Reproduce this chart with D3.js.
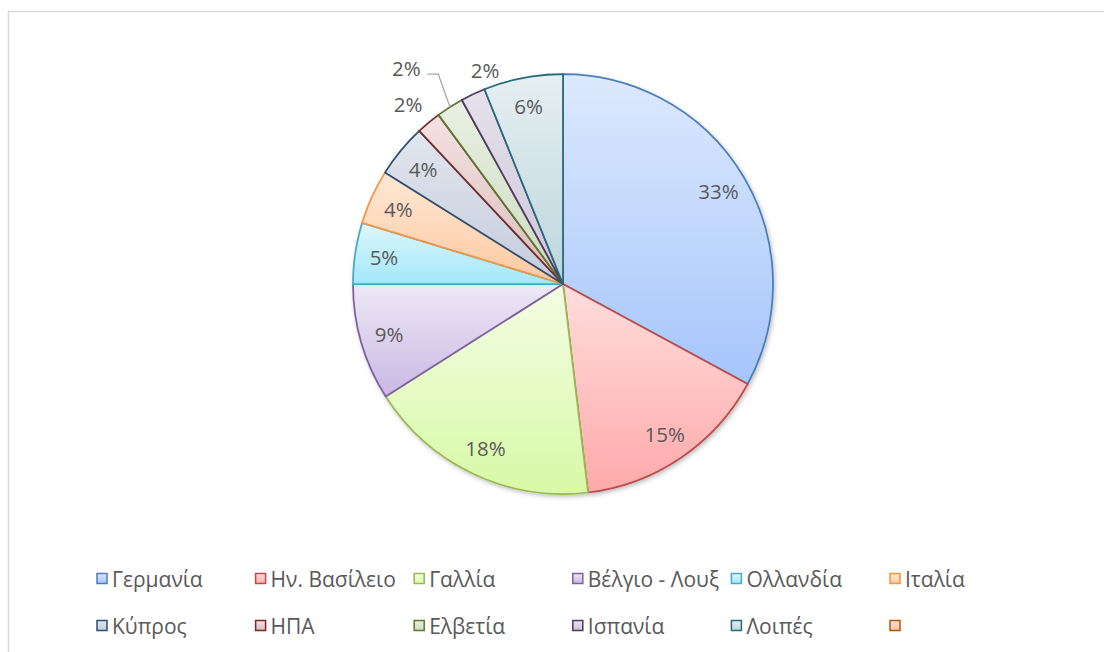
<!DOCTYPE html>
<html>
<head>
<meta charset="utf-8">
<script src="https://cdn.jsdelivr.net/npm/d3@7"></script>
<style>
  body { margin: 0; background: #fff; }
  text { font-family: "Open Sans", sans-serif; fill: #595959; }
</style>
</head>
<body>
<script>
// countries, share of total (percent)
var categories = ["Γερμανία", "Ην. Βασίλειο", "Γαλλία", "Βέλγιο - Λουξ", "Ολλανδία", "Ιταλία",
                  "Κύπρος", "ΗΠΑ", "Ελβετία", "Ισπανία", "Λοιπές", ""];
var values = [32.9, 15.2, 17.9, 9.0, 4.7, 4.2, 4.1, 1.9, 2.1, 1.9, 6.1, 0];

// colours: gradient top, gradient bottom, outline
var fillTop = ["#dde9fd", "#ffdddd", "#f4fde4", "#eee8f6", "#def6fc", "#ffe8d6",
               "#e2e6ee", "#f4e2e2", "#e9f0e3", "#e6e2ec", "#e6eff2", "#fbe0d0"];
var fillBottom = ["#a5c5fb", "#ffa9a9", "#d8f9a6", "#c9b8e4", "#a2e8f8", "#ffc9a0",
                  "#c3cbdc", "#dbbcbc", "#cddbc1", "#cdc4d8", "#bcd5dd", "#f6c2a4"];
var strokeCol = ["#4a7ebb", "#be4b48", "#98b954", "#7d60a0", "#46aac5", "#f69240",
                 "#2c4d75", "#772c2a", "#5f7530", "#4d3b62", "#276a7c", "#b65708"];

var svgWidth = 1104;
var svgHeight = 652;
var cx = 563, cy = 284, radius = 210;

var svg = d3.select("body")
  .append("svg")
  .attr("width", svgWidth)
  .attr("height", svgHeight);

// chart frame (runs off the bottom right of the page)
svg.append("rect")
  .attr("x", 8.5).attr("y", 11.5)
  .attr("width", svgWidth).attr("height", svgHeight)
  .attr("fill", "#fff")
  .attr("stroke", "#d9d9d9")
  .attr("stroke-width", 1.5);

var defs = svg.append("defs");

categories.forEach(function(c, i) {
  var g = defs.append("linearGradient")
    .attr("id", "grad" + i)
    .attr("x1", 0).attr("y1", 0).attr("x2", 0).attr("y2", 1);
  g.append("stop").attr("offset", "0%").attr("stop-color", fillTop[i]);
  g.append("stop").attr("offset", "100%").attr("stop-color", fillBottom[i]);
});

var shadow = defs.append("filter").attr("id", "shadow")
  .attr("x", "-10%").attr("y", "-10%").attr("width", "120%").attr("height", "120%");
shadow.append("feDropShadow")
  .attr("dx", 1.5).attr("dy", 2).attr("stdDeviation", 2)
  .attr("flood-color", "#000").attr("flood-opacity", 0.25);

var pie = d3.pie().sort(null).value(function(d) { return d; });
var arcs = pie(values);

var arc = d3.arc().innerRadius(0).outerRadius(radius);
var labelArc = d3.arc().innerRadius(181).outerRadius(181);

var chart = svg.append("g")
  .attr("transform", "translate(" + cx + "," + cy + ")");

var slices = chart.append("g").attr("filter", "url(#shadow)");

slices.selectAll("path")
  .data(arcs.filter(function(d) { return d.value > 0; }))
  .enter()
  .append("path")
  .attr("d", arc)
  .attr("fill", function(d) { return "url(#grad" + d.index + ")"; })
  .attr("stroke", function(d) { return strokeCol[d.index]; })
  .attr("stroke-width", 1.75)
  .attr("stroke-linejoin", "round");

// small slices get their label pushed outside: radius factor, angle shift (deg)
var outside = {
  "ΗΠΑ": { k: 1.13, shift: -1 },
  "Ελβετία": { k: 1.27, shift: -3.4, leader: true },
  "Ισπανία": { k: 1.085, shift: 5.4 }
};

function polar(a, r) {
  return [Math.sin(a) * r, -Math.cos(a) * r];
}

arcs.forEach(function(d, i) {
  if (d.value <= 0) return;
  var name = categories[i];
  var mid = (d.startAngle + d.endAngle) / 2;
  var p;
  if (outside[name]) {
    var o = outside[name];
    p = polar(mid + o.shift * Math.PI / 180, radius * o.k);
    if (o.leader) {
      var start = [p[0] + 21, p[1] + 6];
      var elbow = [start[0] + 11, start[1]];
      var end = polar(mid, radius);
      chart.append("path")
        .attr("d", d3.line()([start, elbow, end]))
        .attr("fill", "none")
        .attr("stroke", "#a6a6a6")
        .attr("stroke-width", 1.2);
    }
  } else {
    p = labelArc.centroid(d);
  }
  chart.append("text")
    .attr("x", p[0])
    .attr("y", p[1])
    .attr("text-anchor", "middle")
    .attr("dominant-baseline", "central")
    .style("font-size", "20.5px")
    .text(Math.round(d.value) + "%");
});

// legend: 6 columns, 2 rows
var legendX = d3.scaleLinear().domain([0, 5]).range([97, 890]);
var legendY = d3.scaleLinear().domain([0, 1]).range([579, 626]);

var legend = svg.append("g");
var items = legend.selectAll("g")
  .data(categories)
  .enter()
  .append("g")
  .attr("transform", function(d, i) {
    return "translate(" + legendX(i % 6) + "," + legendY(Math.floor(i / 6)) + ")";
  });

items.append("rect")
  .attr("x", 0).attr("y", -5.5)
  .attr("width", 10).attr("height", 10)
  .attr("fill", function(d, i) { return "url(#grad" + i + ")"; })
  .attr("stroke", function(d, i) { return strokeCol[i]; })
  .attr("stroke-width", 1.5);

items.append("text")
  .attr("x", 15)
  .attr("y", 0)
  .attr("dominant-baseline", "central")
  .style("font-size", "21px")
  .text(function(d) { return d; });
</script>
</body>
</html>
